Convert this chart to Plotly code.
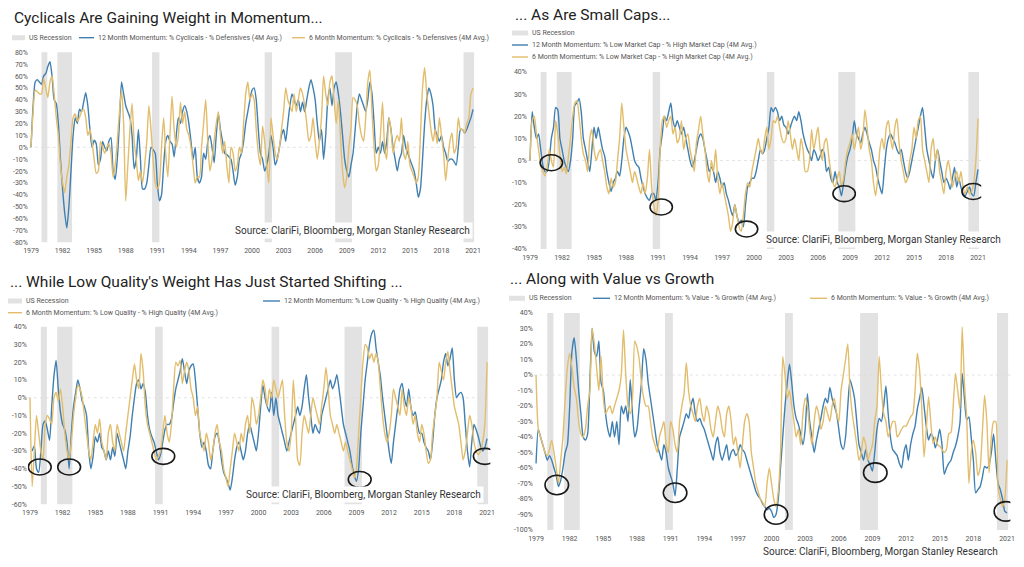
import plotly.graph_objects as go
import numpy as np

# ---------------- data (values in %, sampled every 0.2 year from 1979.0) ----------------
START_YEAR = 1979.0
STEP = 0.2

cyc_12m = [
    0, 35, 55, 57, 55,   53, 60, 62, 68, 72,   60, 40, 37, 20, -10,   -35, -55, -68, -50, -20,
    10, 25, 20, 32, 30,   38, 46, 35, 15, 0,   6, 3, -15, -10, 5,   0, -3, 5, 8, -20,
    -27, -10, 20, 55, 45,   35, 30, 25, 10, -18,   -10, 15, -10, -35, -35,   -30, -15, 0, -2, -5,
    -30, -45, -40, -15, 5,   10, 5, 3, -8, 10,   25, 20, 30, 35, 30,   20, 5, -10, 0, -25,
    -30, -25, -5, -10, 5,   10, 0, -13, 10, 28,   15, 5, -5, -6, -8,   -10, -20, -32, -25, -10,
    -5, 5, 20, 30, 40,   48, 50, 40, 15, -5,   -10, -20, -15, -5, 10,   0, -15, -10, 0, 10,
    15, 5, 20, 35, 45,   40, 35, 40, 30, 38,   30, 40, 50, 57, 50,   40, 20, 5, 15, -10,
    10, 40, 50, 35, 50,   55, 45, 30, 10, -10,   -20, -25, -15, -5, 15,   35, 45, 40, 35, 30,
    40, 55, 45, 20, -5,   0, -5, 5, -5, 5,   25, 15, 0, -10, -20,   -10, -5, 10, 0, -5,
    -10, -15, -20, -30, -42,   -35, -10, 20, 40, 50,   45, 35, 15, 10, 5,   10, 0, -5, -12, -10,
    -10, -12, -15, 0, 15,   15, 12, 15, 20, 25,   32,
]
cyc_6m = [
    0, 30, 48, 47, 45,   45, 58, 50, 42, 55,   60, 45, 25, 10, -15,   -30, -38, -25, -15, 5,
    25, 28, 22, 25, 30,   32, 25, 10, 15, 5,   -10, -22, -20, 5, 0,   -5, 0, 3, -5, -25,
    -15, 5, 30, 48, 20,   -45, -15, 15, 37, 5,   -10, -28, -20, -30, -15,   5, 35, 15, -10, -30,
    -35, -30, 0, 25, -5,   -25, 10, 43, 15, 0,   10, 38, 20, 30, 15,   10, 0, -15, -30, -25,
    -25, 0, 20, 40, 5,   -20, -10, 5, 20, 30,   10, -5, 5, -15, -30,   0, -5, -20, -15, 0,
    -5, 20, 45, 55, 40,   45, 40, 15, -5, -15,   18, 5, -15, -30, 25,   10, -5, -10, 0, 15,
    30, 50, 40, 35, 30,   45, 30, 40, 50, 45,   35, 20, 5, 10, 25,   5, -10, 5, 25, 60,
    45, 35, 55, 60, 40,   20, 40, 10, -20, -34,   -25, 0, 15, 42, 40,   35, 20, 10, 5, 25,
    55, 65, 30, 0, -20,   -15, 10, 38, 0, -10,   25, 15, -5, 5, 10,   5, 25, -5, -10, 5,
    -15, -20, -25, -30, -25,   10, 50, 67, 45, 30,   15, 5, 15, 3, 25,   10, -5, -28, -10, 5,
    12, -5, 0, 25, 15,   15, 12, 20, 25, 45,   50,
]

size_12m = [
    0, 22, 15, 10, 12,   5, -2, -5, -5, 0,   10, 15, 24, 23, 10,   5, 0, -3, -5, 0,
    10, 25, 26, 28, 22,   10, 5, 0, -5, 5,   15, 10, 15, 10, 5,   2, -5, -10, -14, -10,
    -8, -5, -7, 0, 10,   15, 13, 10, 5, 0,   -2, -3, -8, -12, -15,   -17, -18, -15, -15, -18,
    -10, 5, 12, 20, 18,   22, 26, 18, 15, 18,   15, 12, 15, 10, 5,   0, -3, 0, 5, 10,
    12, 10, 5, 0, -5,   -3, -5, -10, -5, -8,   -12, -10, -15, -18, -22,   -25, -20, -25, -28, -27,
    -30, -20, -12, -10, -8,   -8, -5, 0, 5, 3,   5, 10, 15, 24, 22,   24, 22, 18, 20, 16,
    15, 12, 15, 18, 20,   18, 22, 18, 12, 8,   5, 3, 0, 5, 3,   0, 2, 5, 3, -5,
    -3, -8, -10, -5, -10,   -12, -16, -10, -3, 2,   5, 10, 18, 12, 10,   8, 12, 15, 12, 8,
    5, 0, -3, -8, -12,   -15, -5, 5, 10, 12,   10, 8, 5, 3, 5,   0, -5, -8, -5, 0,
    5, 10, 15, 20, 24,   15, 5, 0, -5, -8,   0, 5, 0, -5, -10,   -8, -10, -13, -8, -3,
    -12, -8, -12, -15, -16,   -14, -12, -15, -16, -10,   -4,
]
size_6m = [
    0, 18, 20, 12, 5,   -2, -5, -7, -3, 5,   0, -3, 18, 12, 3,   -5, -3, -6, 2, 10,
    20, 26, 27, 20, 10,   3, 0, -5, 10, 14,   5, 0, 3, 5, 0,   -5, -12, -15, -8, -12,
    -10, 0, 10, 26, 15,   5, 0, -5, -10, -5,   -8, -12, -15, -10, -15,   -8, 5, -12, -20, -25,
    -18, 5, 18, 20, 15,   18, 20, 12, 15, 8,   10, 18, 5, 10, 12,   5, 0, -5, 8, 14,
    20, 12, 5, -5, -10,   0, -5, 5, -8, -15,   -10, -15, -20, -25, -32,   -28, -20, -25, -30, -32,
    -25, -15, -10, -12, -5,   0, 5, 10, 5, 3,   10, 15, 5, 10, 18,   17, 20, 15, 10, 8,
    10, 18, 12, 5, 10,   5, 0, 10, 5, -5,   -5, 0, 14, 5, 10,   15, 5, 0, 8, 10,
    2, -5, -10, -12, -8,   -5, -12, -8, 0, 5,   8, 12, 5, 10, 15,   5, 10, 23, 15, 5,
    0, -10, -16, -8, 5,   10, 5, 15, 18, 10,   5, 15, 19, 8, 0,   -5, -10, -8, 0, 5,
    15, 10, 18, 20, 5,   0, -5, -10, 5, 10,   0, 5, -5, -10, -15,   -5, 0, -5, -12, -8,
    -5, -10, -5, -12, -15,   -12, -15, -14, -10, 0,   19,
]

qual_12m = [
    None, -30, -27, -40, -42,   -30, -15, -13, -18, -24,   -5, 12, 21, 5, -8,   -15, -18, -25, -40, -20,
    -5, 3, 10, 5, -2,   -5, -10, -30, -40, -33,   -22, -25, -20, -28, -30,   -35, -30, -35, -28, -33,
    -20, -25, -30, -35, -40,   -30, -22, -10, 0, 8,   10, 5, 8, 3, -10,   -18, -22, -25, -30, -35,
    -32, -25, -18, -15, -15,   -12, -3, 5, 10, 15,   22, 15, 8, 15, 18,   19, 10, -5, -20, -28,
    -25, -30, -38, -40, -30,   -22, -20, -25, -35, -42,   -45, -48, -52, -45, -35,   -28, -25, -30, -35, -30,
    -20, -15, -20, -25, -30,   -20, -5, 7, 0, -5,   -8, 3, -10, 0, -10,   -15, -20, -25, -30, -25,
    -20, -15, -10, -5, -10,   -5, 5, 13, 0, -10,   -20, -15, -18, -20, -10,   -5, 0, 5, 10, 5,
    8, 13, 5, -5, -15,   -20, -25, -30, -38, -44,   -47, -40, -20, -5, 10,   20, 30, 36, 38, 28,
    20, 12, 0, -10, -20,   -30, -37, -25, -15, -5,   5, 8, 0, -5, 5,   -5, -10, -8, -15, -20,
    -20, -25, -28, -30, -35,   -25, -10, 0, 5, 10,   20, 25, 18, 22, 28,   10, 0, 2, 3, 0,
    -15, -30, -39, -25, -15,   -18, -22, -27, -30, -28,   -23,
]
qual_6m = [
    0, -50, -30, -10, -20,   -30, -35, -15, -10, -12,   -15, 0, 3, -2, 5,   -5, -20, -30, -35, -25,
    -10, 0, 7, 5, 0,   -10, -20, -30, -35, -25,   -15, -20, -12, -25, -30,   -35, -20, -15, -25, -30,
    -15, -20, -25, -30, -20,   -10, 0, 10, 19, 10,   5, 25, 15, -5, -15,   -20, -25, -30, -35, -33,
    -30, -20, -10, -20, -25,   -15, 5, 20, 18, 21,   8, 15, 20, 15, 5,   0, -10, -5, -20, -25,
    -30, -20, -25, -35, -30,   -20, -15, -25, -30, -40,   -45, -50, -40, -30, -20,   -25, -30, -20, -25, -15,
    -10, -20, 0, -5, -15,   -10, 0, 10, 5, -5,   5, 0, 10, 5, 0,   5, 10, -10, -25, -30,
    -20, 10, -10, -35, -38,   -20, -10, -15, -20, -10,   0, -5, -10, -15, -5,   5, 17, 5, -10, -15,
    -20, -15, -20, -25, -30,   -25, -30, -35, -40, -45,   -40, -20, 0, 20, 30,   28, 22, 25, 20, 25,
    20, 5, -10, -20, -25,   -20, -10, 5, 0, -5,   -10, 5, -5, -10, 0,   -5, -15, -10, -20, -25,
    -15, -20, -30, -37, -35,   -20, -10, 0, 20, 15,   10, 20, 26, 15, 5,   -5, -10, -15, -25, -35,
    -30, -20, -10, -15, -25,   -30, -32, -30, -25, -15,   20,
]

val_12m = [
    -57, -35, -40, -45, -50,   -55, -52, -55, -60, -65,   -72, -68, -60, -50, -45,   -20, 15, 24, 10, -10,
    -25, -40, -42, -38, -5,   30, 15, 12, 22, -5,   -10, -25, -35, -40, -30,   -40, -30, -45, -20, -25,
    -20, -30, -3, -25, -40,   -35, -20, -5, 17, 10,   -5, -15, -25, -35, -45,   -50, -55, -45, -50, -60,
    -65, -70, -78, -60, -40,   -35, -30, -25, -28, -20,   -15, -25, -30, -28, -32,   -35, -40, -45, -50, -55,
    -45, -40, -50, -55, -50,   -45, -55, -50, -48, -52,   -50, -45, -48, -50, -55,   -60, -65, -70, -75, -78,
    -80, -83, -85, -87, -86,   -88, -92, -90, -80, -60,   -40, -20, -5, 7, -5,   -20, -28, -32, -38, -45,
    -35, -12, -30, -40, -50,   -42, -35, -28, -20, -15,   -18, -8, -15, -20, -25,   -35, -45, -48, -40, -20,
    -3, -8, -15, -30, -45,   -50, -55, -48, -55, -58,   -62, -50, -35, -28, -30,   -20, -7, -25, -40, -48,
    -50, -52, -57, -60, -50,   -45, -55, -45, -38, -33,   -22, -15, -8, -20, -33,   -42, -38, -40, -47, -42,
    -35, -45, -64, -60, -57,   -55, -50, -46, -40, -31,   1, -15, -29, -27, -40,   -55, -76, -74, -72, -66,
    -59, -60, -58, -50, -38,   -55, -70, -74, -80, -88,   -89,
]
val_6m = [
    0, -35, -40, -45, -50,   -52, -48, -42, -50, -60,   -70, -55, -40, -15, 5,   14, 5, -8, -15, -30,
    -38, -40, -35, -20, -10,   30, 20, 5, -10, 12,   -15, -25, -22, -20, -25,   -20, -15, -10, 0, 29,
    0, -20, -25, -15, 22,   18, 10, -5, -15, -20,   -20, -30, -40, -45, -50,   -40, -35, -30, -45, -50,
    -30, -35, -45, -50, -30,   -20, -12, 8, -10, -20,   -25, -30, -20, -15, -25,   -30, -20, -25, -35, -40,
    -30, -20, -25, -35, -40,   -25, -20, -30, -45, -40,   -50, -60, -45, -30, -25,   -30, -50, -60, -70, -75,
    -80, -82, -85, -70, -60,   -70, -80, -85, -75, -50,   12, 0, -15, -10, -20,   -30, -40, -35, -45, -25,
    -15, -20, -35, -45, -30,   -20, -25, -35, -30, -20,   -25, -30, -20, -15, -25,   -30, -10, 0, 10, 20,
    -10, -25, -35, -45, -55,   -50, -40, -45, -55, -50,   -45, -30, -20, 12, -10,   -25, -30, -40, -35, -30,
    -30, -40, -38, -35, -33,   -33, -30, -27, -25, -10,   14, 3, -22, -53, -35,   -14, -30, -44, -40, -45,
    -46, -48, -50, -48, -38,   -37, -20, 1, -10, -22,   31, -5, -27, -70, -50,   -42, -50, -65, -60, -37,
    -13, -30, -63, -40, -30,   -30, -72, -80, -85, -80,   -55,
]

rec_start = [1980.0, 1981.5, 1990.5, 2001.2, 2007.9, 2020.1]
rec_end = [1980.55, 1982.9, 1991.2, 2001.9, 2009.5, 2021.1]

# highlighted lows (year, value) per panel, drawn as ellipses
lows_size = [(1981.0, -1), (1991.3, -21), (1999.3, -31), (2008.45, -15), (2020.55, -14)]
lows_qual = [(1979.9, -39), (1982.6, -39), (1991.25, -33), (2009.3, -46), (2020.8, -33)]
lows_value = [(1980.85, -71), (1991.4, -76), (2000.4, -90), (2009.25, -63), (2020.9, -88)]

tick_years = list(range(1979, 2022, 3))

titles = [
    "Cyclicals Are Gaining Weight in Momentum...",
    "... As Are Small Caps...",
    "... While Low Quality's Weight Has Just Started Shifting ...",
    "... Along with Value vs Growth",
]
names_12m = [
    "12 Month Momentum: % Cyclicals - % Defensives (4M Avg.)",
    "12 Month Momentum: % Low Market Cap - % High Market Cap (4M Avg.)",
    "12 Month Momentum: % Low Quality - % High Quality (4M Avg.)",
    "12 Month Momentum: % Value - % Growth (4M Avg.)",
]
names_6m = [
    "6 Month Momentum: % Cyclicals - % Defensives (4M Avg.)",
    "6 Month Momentum: % Low Market Cap - % High Market Cap (4M Avg.)",
    "6 Month Momentum: % Low Quality - % High Quality (4M Avg.)",
    "6 Month Momentum: % Value - % Growth (4M Avg.)",
]
source_text = "Source: ClariFi, Bloomberg, Morgan Stanley Research"

# ---------------- styling / layout ----------------
W, H = 1024, 567
BLUE = "#3f7fb1"
GOLD = "#e2bd6c"
GREY = "#e2e2e2"
TXT = "#555555"
FONT = "Roboto"

def px(x):
    return x / W

def py(y):
    return 1 - y / H

panels = [
    dict(s12=cyc_12m, s6=cyc_6m, xd=(28.9, 476.2), yd=(242.3, 52.3), yr=(-80, 80), lows=[]),
    dict(s12=size_12m, s6=size_6m, xd=(527.9, 981.2), yd=(249.0, 72.0), yr=(-40, 40), lows=lows_size),
    dict(s12=qual_12m, s6=qual_6m, xd=(27.8, 490.3), yd=(504.3, 326.7), yr=(-60, 40), lows=lows_qual),
    dict(s12=val_12m, s6=val_6m, xd=(533.8, 1010.4), yd=(530.0, 313.0), yr=(-100, 40), lows=lows_value),
]
XR = [1978.8, 2021.3]

fig = go.Figure()
shapes = []
annotations = []

for i, p in enumerate(panels):
    n = "" if i == 0 else str(i + 1)
    xa, ya = "x" + n, "y" + n
    xs12 = START_YEAR + STEP * np.arange(len(p["s12"]))
    xs6 = START_YEAR + STEP * np.arange(len(p["s6"]))
    fig.add_trace(go.Scatter(x=xs12, y=p["s12"], mode="lines", name=names_12m[i],
                             line=dict(color=BLUE, width=1.4, shape="spline", smoothing=0.6),
                             xaxis=xa, yaxis=ya, showlegend=False))
    fig.add_trace(go.Scatter(x=xs6, y=p["s6"], mode="lines", name=names_6m[i],
                             line=dict(color=GOLD, width=1.4, shape="spline", smoothing=0.6),
                             xaxis=xa, yaxis=ya, showlegend=False))
    yvals = list(range(p["yr"][0], p["yr"][1] + 1, 10))
    fig.layout["xaxis" + n] = dict(
        domain=[px(p["xd"][0]), px(p["xd"][1])], range=XR, anchor=ya,
        tickvals=tick_years, ticktext=[str(t) for t in tick_years],
        showgrid=False, zeroline=False, showline=False, ticks="", ticklabelstandoff=3,
        tickfont=dict(size=7, color=TXT, family=FONT), automargin=False)
    fig.layout["yaxis" + n] = dict(
        domain=[py(p["yd"][0]), py(p["yd"][1])], range=list(p["yr"]), anchor=xa,
        tickvals=yvals, ticktext=[f"{v}%" for v in yvals],
        showgrid=False, zeroline=False, showline=False, ticks="",
        tickfont=dict(size=7, color=TXT, family=FONT), automargin=False)
    for a, b in zip(rec_start, rec_end):
        shapes.append(dict(type="rect", xref=xa, yref=ya + " domain", x0=a, x1=b, y0=0, y1=1,
                           fillcolor=GREY, line=dict(width=0), layer="below"))
    shapes.append(dict(type="line", xref=xa + " domain", yref=ya, x0=0, x1=1, y0=0, y1=0,
                       line=dict(color="#dddddd", width=0.8, dash="dot"), layer="below"))
    for (cx, cy) in p["lows"]:
        hw = 1.05
        hh = (p["yr"][1] - p["yr"][0]) * 0.045
        shapes.append(dict(type="circle", xref=xa, yref=ya, x0=cx - hw, x1=cx + hw,
                           y0=cy - hh, y1=cy + hh, line=dict(color="#1a1a1a", width=1.6)))

# titles
title_pos = [(12, 18), (513, 15), (8, 282), (508, 279)]
for (tx, ty), t in zip(title_pos, titles):
    annotations.append(dict(xref="paper", yref="paper", x=px(tx), y=py(ty), text=t,
                            showarrow=False, xanchor="left", yanchor="middle",
                            font=dict(size=15.5, color="#222222", family=FONT)))

# legends (swatch start x, swatch end x, y, kind, label)
leg_font = dict(size=7, color=TXT, family=FONT)
legend_items = [
    (12, 25, 37.7, "rec", "US Recession"),
    (79, 94, 37.7, "b", names_12m[0]),
    (292, 305, 37.7, "g", names_6m[0]),
    (512, 528, 33, "rec", "US Recession"),
    (512, 528, 45, "b", names_12m[1]),
    (512, 528, 57, "g", names_6m[1]),
    (8, 22, 301, "rec", "US Recession"),
    (263, 280, 301, "b", names_12m[2]),
    (8, 22, 312.7, "g", names_6m[2]),
    (509, 525, 298.3, "rec", "US Recession"),
    (593, 610, 298.3, "b", names_12m[3]),
    (810, 827, 298.3, "g", names_6m[3]),
]
for x0, x1, yy, kind, label in legend_items:
    if kind == "rec":
        shapes.append(dict(type="rect", xref="paper", yref="paper", x0=px(x0), x1=px(x1),
                           y0=py(yy + 2.5), y1=py(yy - 2.5), fillcolor=GREY, line=dict(width=0)))
    else:
        shapes.append(dict(type="line", xref="paper", yref="paper", x0=px(x0), x1=px(x1),
                           y0=py(yy), y1=py(yy), line=dict(color=BLUE if kind == "b" else GOLD, width=1.4)))
    annotations.append(dict(xref="paper", yref="paper", x=px(x1 + 1.5), y=py(yy), text=label,
                            showarrow=False, xanchor="left", yanchor="middle", font=leg_font))

# sources
source_pos = [(232, 230, True), (763, 239, True), (243, 494, True), (760, 551.7, False)]
for sx, sy, bg in source_pos:
    annotations.append(dict(xref="paper", yref="paper", x=px(sx), y=py(sy), text=source_text,
                            showarrow=False, xanchor="left", yanchor="middle",
                            bgcolor="white" if bg else None, borderpad=2,
                            font=dict(size=10, color="#333333", family=FONT)))

fig.update_layout(width=W, height=H, autosize=False, margin=dict(l=0, r=0, t=0, b=0),
                  paper_bgcolor="white", plot_bgcolor="white", showlegend=False,
                  shapes=shapes, annotations=annotations, font=dict(family=FONT))

fig.write_html("out.html", config={"displayModeBar": False},
               post_script="document.body.style.margin='0';document.body.style.overflow='hidden';")
